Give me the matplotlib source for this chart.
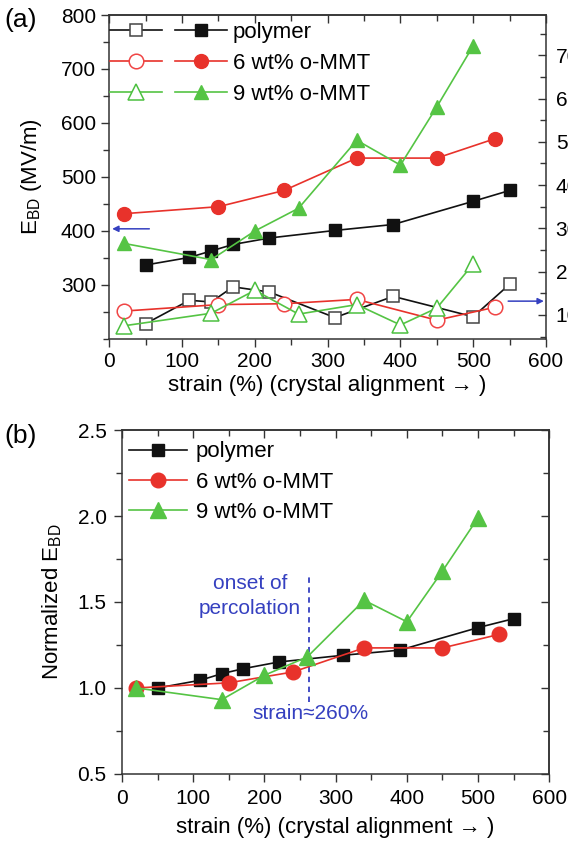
import matplotlib
matplotlib.use("Agg")
import matplotlib.pyplot as plt
from matplotlib.legend_handler import HandlerTuple
from matplotlib.ticker import MultipleLocator

plt.rcParams['font.family'] = ['Liberation Sans', 'DejaVu Sans']
plt.rcParams['mathtext.fontset'] = 'custom'
plt.rcParams['mathtext.rm'] = 'Liberation Sans'
plt.rcParams['mathtext.it'] = 'Liberation Sans'

# ---- data: panel (a), left axis (filled markers, E_BD in MV/m)
poly_x = [50, 110, 140, 170, 220, 310, 390, 500, 550]
poly_E = [337, 351, 363, 375, 387, 401, 412, 455, 475]
mmt6_x = [20, 150, 240, 340, 450, 530]
mmt6_E = [432, 445, 475, 535, 535, 571]
mmt9_x = [20, 140, 200, 260, 340, 400, 450, 500]
mmt9_E = [377, 347, 400, 442, 568, 522, 630, 743]

# panel (a), right axis (open markers)
poly_r = [8.0, 13.4, 13.0, 16.5, 15.3, 9.4, 14.3, 9.6, 17.1]
mmt6_r = [10.9, 12.4, 12.6, 13.6, 8.8, 11.8]
mmt9_r = [7.5, 10.4, 15.7, 10.2, 12.4, 7.7, 11.6, 21.8]

# ---- data: panel (b), normalized E_BD
poly_n = [1.0, 1.045, 1.083, 1.112, 1.151, 1.19, 1.22, 1.351, 1.403]
mmt6_n = [1.0, 1.03, 1.093, 1.233, 1.233, 1.312]
mmt9_n = [1.0, 0.932, 1.074, 1.18, 1.51, 1.385, 1.68, 1.99]

labels = ['polymer', '6 wt% o-MMT', '9 wt% o-MMT']

BLACK = '#111111'
RED = '#e8322b'
GREEN = '#55c444'
BLUE = '#3540c0'
SPINE = '#333333'

xlab = 'strain (%) (crystal alignment \u2192 )'

fig = plt.figure(figsize=(5.68, 8.43), dpi=100)
axa = fig.add_axes([0.1924, 0.5979, 0.7689, 0.3843])
axb = fig.add_axes([0.2148, 0.0819, 0.7523, 0.4080])


def style_axes(ax, pad):
    for s in ax.spines.values():
        s.set_color(SPINE)
        s.set_linewidth(1.1)
    ax.tick_params(which='both', direction='out', color=SPINE, width=1.0,
                   labelsize=15, pad=pad)
    ax.tick_params(which='major', length=6)
    ax.tick_params(which='minor', length=4)
    top = ax.secondary_xaxis('top')
    top.set_xticks(ax.get_xticks())
    top.xaxis.set_minor_locator(MultipleLocator(50))
    top.tick_params(which='both', direction='in', labeltop=False, color=SPINE, width=1.0)
    top.tick_params(which='major', length=6)
    top.tick_params(which='minor', length=4)
    top.spines['top'].set_linewidth(1.1)
    top.spines['top'].set_color(SPINE)
    return top


# ---------------- panel (a)
axa.set_xlim(0, 600)
axa.set_ylim(200, 800)
axa.set_xticks(range(0, 601, 100))
axa.set_yticks(range(300, 801, 100))
axa.xaxis.set_minor_locator(MultipleLocator(50))
axa.yaxis.set_minor_locator(MultipleLocator(50))
style_axes(axa, 3.5)

ax2 = axa.twinx()
ax2.set_ylim(4.46, 79.3)
ax2.set_yticks(range(10, 71, 10))
ax2.yaxis.set_minor_locator(MultipleLocator(5))
ax2.tick_params(which='both', direction='in', color=SPINE, width=1.0, labelsize=15, pad=7)
ax2.tick_params(which='major', length=6)
ax2.tick_params(which='minor', length=4)
for s in ax2.spines.values():
    s.set_visible(False)

kw_f = dict(lw=1.2, zorder=3)
l_pf, = axa.plot(poly_x, poly_E, color=BLACK, marker='s', ms=8, mfc=BLACK, mec=BLACK, **kw_f)
l_6f, = axa.plot(mmt6_x, mmt6_E, color=RED, marker='o', ms=10, mfc=RED, mec=RED, **kw_f)
l_9f, = axa.plot(mmt9_x, mmt9_E, color=GREEN, marker='^', ms=10.5, mfc=GREEN, mec=GREEN, **kw_f)

kw_o = dict(lw=1.2, mfc='white', mew=1.1, zorder=3)
l_po, = ax2.plot(poly_x, poly_r, color=BLACK, marker='s', ms=9, mec='#444444', **kw_o)
l_6o, = ax2.plot(mmt6_x, mmt6_r, color=RED, marker='o', ms=10.5, mec='#f04545', **kw_o)
l_9o, = ax2.plot(mmt9_x, mmt9_r, color=GREEN, marker='^', ms=11, mec='#4cc040', **kw_o)

arrow = dict(arrowstyle='-|>', color=BLUE, lw=1.1, mutation_scale=9, shrinkA=0, shrinkB=0)
axa.annotate('', xy=(4, 404), xytext=(55, 404), arrowprops=arrow)
ax2.annotate('', xy=(597, 13.2), xytext=(548, 13.2), arrowprops=arrow, annotation_clip=False)

leg = ax2.legend([(l_po, l_pf), (l_6o, l_6f), (l_9o, l_9f)], labels,
                 handler_map={tuple: HandlerTuple(ndivide=None, pad=0.6)},
                 loc='upper left', bbox_to_anchor=(-0.03, 1.02), frameon=False,
                 fontsize=16, handlelength=5.3, handletextpad=0.25, labelspacing=0.45,
                 borderaxespad=0.2)

axa.set_xlabel(xlab, fontsize=16, labelpad=3)
axa.set_ylabel('E$_{\\mathrm{BD}}$ (MV/m)', fontsize=16, labelpad=12)
fig.text(0.008, 0.976, '(a)', fontsize=19, ha='left', va='center')

# ---------------- panel (b)
axb.set_xlim(0, 600)
axb.set_ylim(0.5, 2.5)
axb.set_xticks(range(0, 601, 100))
axb.set_yticks([0.5, 1.0, 1.5, 2.0, 2.5])
axb.set_yticklabels(['0.5', '1.0', '1.5', '2.0', '2.5'])
axb.xaxis.set_minor_locator(MultipleLocator(50))
axb.yaxis.set_minor_locator(MultipleLocator(0.25))
style_axes(axb, 5)
rgt = axb.secondary_yaxis('right')
rgt.set_yticks([0.5, 1.0, 1.5, 2.0, 2.5])
rgt.yaxis.set_minor_locator(MultipleLocator(0.25))
rgt.tick_params(which='both', direction='in', labelright=False, color=SPINE, width=1.0)
rgt.tick_params(which='major', length=6)
rgt.tick_params(which='minor', length=4)
rgt.spines['right'].set_linewidth(1.1)
rgt.spines['right'].set_color(SPINE)

b_p, = axb.plot(poly_x, poly_n, color=BLACK, marker='s', ms=9, mfc=BLACK, mec=BLACK, **kw_f)
b_6, = axb.plot(mmt6_x, mmt6_n, color=RED, marker='o', ms=10.5, mfc=RED, mec=RED, **kw_f)
b_9, = axb.plot(mmt9_x, mmt9_n, color=GREEN, marker='^', ms=11, mfc=GREEN, mec=GREEN, **kw_f)

axb.plot([262, 262], [0.92, 1.65], color=BLUE, lw=1.3, ls=(0, (3, 2.5)), zorder=2)
axb.text(180, 1.61, 'onset of', color=BLUE, fontsize=15, ha='center', va='center')
axb.text(180, 1.465, 'percolation', color=BLUE, fontsize=15, ha='center', va='center')
axb.text(265, 0.85, 'strain\u2248260%', color=BLUE, fontsize=15, ha='center', va='center')

axb.legend([b_p, b_6, b_9], labels, loc='upper left', bbox_to_anchor=(-0.02, 1.012),
           frameon=False, fontsize=16, handlelength=2.6, handletextpad=0.4,
           labelspacing=0.42, borderaxespad=0.3)

axb.set_xlabel(xlab, fontsize=16, labelpad=6)
axb.set_ylabel('Normalized E$_{\\mathrm{BD}}$', fontsize=16, labelpad=10)
fig.text(0.008, 0.483, '(b)', fontsize=19, ha='left', va='center')

fig.savefig('out.png', dpi=100)
